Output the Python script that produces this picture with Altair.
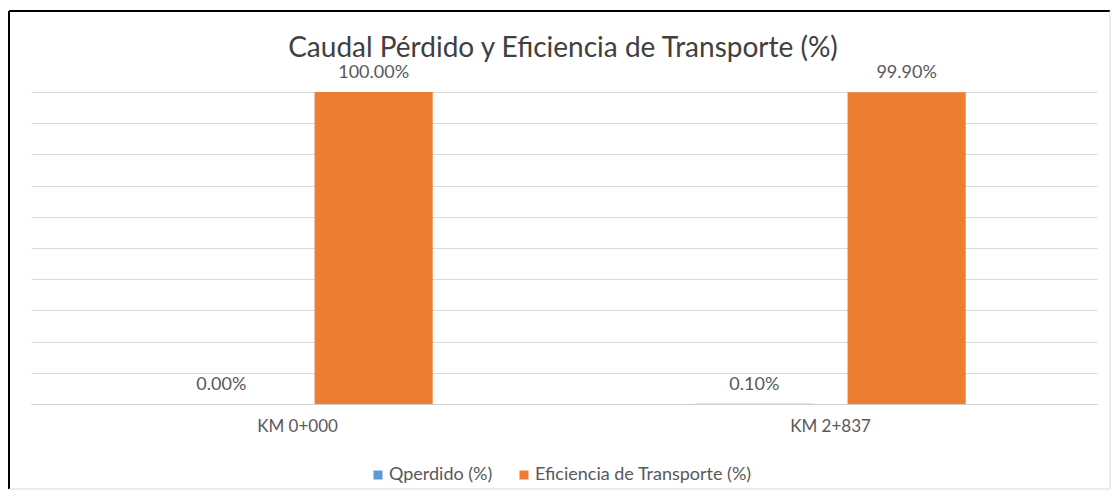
import altair as alt
import pandas as pd

categories = ["KM 0+000", "KM 2+837"]
series = ["Qperdido (%)", "Eficiencia de Transporte (%)"]
qperdido = [0.00, 0.10]
eficiencia = [100.00, 99.90]
colors = ["#5B9BD5", "#ED7D31"]
y_ticks = [0, 10, 20, 30, 40, 50, 60, 70, 80, 90, 100]
title_text = "Caudal Pérdido y Eficiencia de Transporte (%)"

rows = []
for i, c in enumerate(categories):
    rows.append({"cat": c, "serie": series[0], "value": qperdido[i]})
    rows.append({"cat": c, "serie": series[1], "value": eficiencia[i]})
df = pd.DataFrame(rows)

W, H = 1066, 312
FONT = "Lato"

x_enc = alt.X("cat:N", sort=categories, title=None,
              scale=alt.Scale(paddingInner=0.4286, paddingOuter=0.2143),
              axis=alt.Axis(labelAngle=0, labelFontSize=17, labelColor="#595959",
                            labelFont=FONT, ticks=False, labelPadding=14,
                            domainColor="#D0D0D0", domainWidth=1, grid=False))
xo_enc = alt.XOffset("serie:N", sort=series,
                     scale=alt.Scale(paddingInner=0.224, paddingOuter=0.112))
y_enc = alt.Y("value:Q", title=None,
              scale=alt.Scale(domain=[0, 100], nice=False),
              axis=alt.Axis(values=y_ticks, labels=False, ticks=False, domain=False,
                            grid=True, gridColor="#D9D9D9", gridWidth=1))

base = alt.Chart(df)

bars = base.mark_bar().encode(
    x=x_enc, xOffset=xo_enc, y=y_enc,
    color=alt.Color("serie:N", sort=series,
                    scale=alt.Scale(domain=series, range=colors),
                    legend=alt.Legend(title=None, orient="none", direction="horizontal",
                                      legendX=338, legendY=374,
                                      symbolType="square", symbolSize=81,
                                      symbolStrokeWidth=0,
                                      labelFontSize=18, labelFont=FONT,
                                      labelLimit=0,
                                      labelColor="#595959", columnPadding=22,
                                      labelOffset=2))
)

labels = base.transform_calculate(
    label="format(datum.value, '.2f') + '%'"
).mark_text(baseline="alphabetic", dy=-14, fontSize=18, font=FONT, color="#595959").encode(
    x=x_enc, xOffset=xo_enc, y=y_enc, text="label:N"
)

one = alt.Data(values=[{"k": 1}])
title = alt.Chart(one).mark_text(
    fontSize=28, font=FONT, color="#404040", baseline="alphabetic", align="center"
).encode(x=alt.value(532), y=alt.value(-35), text=alt.value(title_text))

left_border = alt.Chart(one).mark_rule(color="#000000", strokeWidth=2).encode(
    x=alt.value(-22), y=alt.value(-81), y2=alt.value(397))
top_border = alt.Chart(one).mark_rule(color="#000000", strokeWidth=2).encode(
    x=alt.value(-22), x2=alt.value(1079), y=alt.value(-81))
right_border = alt.Chart(one).mark_rule(color="#D9D9D9", strokeWidth=1).encode(
    x=alt.value(1079), y=alt.value(-81), y2=alt.value(397))
bottom_border = alt.Chart(one).mark_rule(color="#D9D9D9", strokeWidth=1).encode(
    x=alt.value(-22), x2=alt.value(1079), y=alt.value(397))

chart = alt.layer(bars, labels, title, left_border, top_border, right_border, bottom_border).properties(
    width=W, height=H,
    background="white",
    autosize=alt.AutoSizeParams(type="none"),
    padding={"left": 23, "top": 84, "right": 14, "bottom": 86},
).configure_view(
    strokeWidth=0, stroke="transparent"
).configure_axisY(
    domain=False, ticks=False
).configure_axisX(
    grid=False
)

chart.save("out.html", embed_options={"renderer": "svg", "actions": False})
